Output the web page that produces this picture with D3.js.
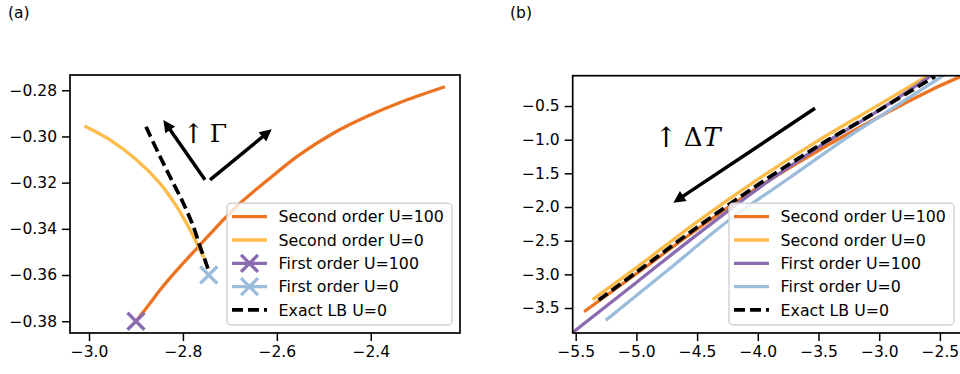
<!DOCTYPE html>
<html>
<head>
<meta charset="utf-8">
<script src="https://cdn.jsdelivr.net/npm/d3@7"></script>
<style>
  body { margin: 0; background: #fff; }
  svg { display: block; font-family: "DejaVu Sans", sans-serif; }
</style>
</head>
<body>
<svg id="fig" width="960" height="374"></svg>
<script>
// ---- legend entries (shared by both panels) ----
const seriesNames = ["Second order U=100", "Second order U=0", "First order U=100", "First order U=0", "Exact LB U=0"];
const seriesColors = ["#ec7321", "#fdbc4a", "#8a6bb0", "#9cbcdc", "#000000"];

// ---- panel (a) ----
const aXTicks = [-3.0, -2.8, -2.6, -2.4];
const aYTicks = [-0.28, -0.30, -0.32, -0.34, -0.36, -0.38];
const aSecondU100X = [-2.900, -2.870, -2.8488, -2.8062, -2.7636, -2.7210, -2.6784, -2.6215, -2.5506, -2.4797, -2.4086, -2.3376, -2.2454];
const aSecondU100Y = [-0.3800, -0.3722, -0.3665, -0.3564, -0.3470, -0.3376, -0.3289, -0.3192, -0.3078, -0.2986, -0.2914, -0.2853, -0.2787];
const aSecondU0X = [-3.0064, -2.9553, -2.8984, -2.8488, -2.8132, -2.7849, -2.7672, -2.7566];
const aSecondU0Y = [-0.2958, -0.3015, -0.3102, -0.3203, -0.3304, -0.3404, -0.3477, -0.3520];
const aFirstU100X = [-2.900];
const aFirstU100Y = [-0.380];
const aFirstU0X = [-2.745];
const aFirstU0Y = [-0.360];
const aExactU0X = [-2.8786, -2.8488, -2.8204, -2.7991, -2.7778, -2.7636, -2.7529, -2.7459];
const aExactU0Y = [-0.2958, -0.3087, -0.3203, -0.3289, -0.3390, -0.3477, -0.3535, -0.3578];

// ---- panel (b) ----
const bXTicks = [-5.5, -5.0, -4.5, -4.0, -3.5, -3.0, -2.5];
const bYTicks = [-0.5, -1.0, -1.5, -2.0, -2.5, -3.0, -3.5];
const bSecondU100X = [-5.42, -5.0, -4.5, -4.0, -3.5, -3.0, -2.8, -2.5, -2.30];
const bSecondU100Y = [-3.54, -2.99, -2.33, -1.71, -1.16, -0.66, -0.47, -0.20, -0.04];
const bSecondU0X = [-5.35, -5.0, -4.5, -4.0, -3.5, -3.0, -2.6];
const bSecondU0Y = [-3.36, -2.90, -2.22, -1.59, -1.01, -0.48, -0.05];
const bFirstU100X = [-5.60, -5.0, -4.5, -4.0, -3.5, -3.0, -2.58];
const bFirstU100Y = [-3.97, -3.12, -2.41, -1.73, -1.11, -0.56, -0.06];
const bFirstU0X = [-5.242, -4.75, -4.24, -3.75, -3.25, -3.0, -2.75, -2.474];
const bFirstU0Y = [-3.668, -2.95, -2.20, -1.58, -0.95, -0.66, -0.37, -0.05];
const bExactU0X = [-5.31, -5.0, -4.5, -4.0, -3.5, -3.0, -2.54];
const bExactU0Y = [-3.38, -2.97, -2.30, -1.67, -1.09, -0.56, -0.06];

// annotation arrows, in data coordinates: [x0, y0, x1, y1]
const aArrowLeft = [-2.753, -0.3188, -2.8417, -0.2929];
const aArrowRight = [-2.7423, -0.3188, -2.6109, -0.2969];
const bArrow = [-3.529, -0.534, -4.696, -1.936];

const svg = d3.select("#fig");
const zip = (xs, ys) => xs.map((x, i) => [x, ys[i]]);
const LW = 3.3;

function drawPanel(cfg) {
  const x = d3.scaleLinear().domain(cfg.xDomain).range([cfg.left, cfg.right]);
  const y = d3.scaleLinear().domain(cfg.yDomain).range([cfg.bottom, cfg.top]);
  const g = svg.append("g");

  const clipId = "clip-" + cfg.id;
  svg.append("clipPath").attr("id", clipId).append("rect")
    .attr("x", cfg.left).attr("y", cfg.top)
    .attr("width", cfg.right - cfg.left).attr("height", cfg.bottom - cfg.top);

  // axes
  const xAxis = d3.axisBottom(x).tickValues(cfg.xTicks).tickFormat(d3.format(cfg.xFmt))
    .tickSizeInner(8).tickSizeOuter(0).tickPadding(5);
  const yAxis = d3.axisLeft(y).tickValues(cfg.yTicks).tickFormat(d3.format(cfg.yFmt))
    .tickSizeInner(8).tickSizeOuter(0).tickPadding(5);
  const gx = g.append("g").attr("transform", `translate(0,${cfg.bottom})`).call(xAxis);
  const gy = g.append("g").attr("transform", `translate(${cfg.left},0)`).call(yAxis);
  [gx, gy].forEach(a => {
    a.attr("font-family", null).attr("font-size", null);
    a.select(".domain").remove();
    a.selectAll(".tick line").attr("stroke", "#000").attr("stroke-width", 1.5);
    a.selectAll(".tick text").style("font-size", "15.5px").style("font-family", "'DejaVu Sans', sans-serif").attr("fill", "#000");
  });

  // curves
  const line = d3.line().x(d => x(d[0])).y(d => y(d[1])).curve(d3.curveCatmullRom.alpha(0.5));
  const plot = g.append("g").attr("clip-path", `url(#${clipId})`);
  cfg.series.forEach(s => {
    const pts = zip(s.x, s.y);
    if (pts.length > 1) {
      plot.append("path").attr("d", line(pts)).attr("fill", "none")
        .attr("stroke", s.color).attr("stroke-width", s.dash ? 3.7 : LW)
        .attr("stroke-dasharray", s.dash ? "11,5" : null)
        .attr("stroke-linecap", s.dash ? "butt" : "square");
    }
    if (s.marker) {
      pts.forEach(p => drawX(g, x(p[0]), y(p[1]), 8.5, s.color));
    }
  });

  // arrows
  cfg.arrows.forEach(a => drawArrow(g, x(a[0]), y(a[1]), x(a[2]), y(a[3])));

  // spines
  g.append("rect").attr("x", cfg.left).attr("y", cfg.top)
    .attr("width", cfg.right - cfg.left).attr("height", cfg.bottom - cfg.top)
    .attr("fill", "none").attr("stroke", "#000").attr("stroke-width", 1.7);

  // legend
  const lw = 225, lh = 121.7;
  const lx = cfg.right - 8 - lw, ly = cfg.bottom - 8 - lh;
  const lg = g.append("g");
  lg.append("rect").attr("x", lx).attr("y", ly).attr("width", lw).attr("height", lh)
    .attr("rx", 4).attr("fill", "#fff").attr("fill-opacity", 0.8)
    .attr("stroke", "#d4d4d4").attr("stroke-width", 1.5);
  cfg.series.forEach((s, i) => {
    const cy = ly + 13.4 + i * 23.3;
    lg.append("line").attr("x1", lx + 5).attr("x2", lx + 40).attr("y1", cy).attr("y2", cy)
      .attr("stroke", s.color).attr("stroke-width", s.dash ? 3.7 : LW)
      .attr("stroke-dasharray", s.dash ? "11,5" : null);
    if (s.marker) drawX(lg, lx + 22.5, cy, 8.5, s.color);
    lg.append("text").attr("x", lx + 51.6).attr("y", cy).attr("dy", "0.36em")
      .style("font-size", "15.8px").text(seriesNames[i]);
  });
  return { x, y, g };
}

function drawX(g, cx, cy, r, color) {
  g.append("path")
    .attr("d", `M${cx - r},${cy - r}L${cx + r},${cy + r}M${cx - r},${cy + r}L${cx + r},${cy - r}`)
    .attr("stroke", color).attr("stroke-width", 3.3).attr("fill", "none");
}

function drawArrow(g, x0, y0, x1, y1) {
  const dx = x1 - x0, dy = y1 - y0, len = Math.hypot(dx, dy);
  const ux = dx / len, uy = dy / len, hl = 12, hw = 6;
  const bx = x1 - ux * hl, by = y1 - uy * hl;
  g.append("line").attr("x1", x0).attr("y1", y0).attr("x2", bx + ux * 2).attr("y2", by + uy * 2)
    .attr("stroke", "#000").attr("stroke-width", 3.5);
  g.append("path")
    .attr("d", `M${x1},${y1}L${bx - uy * hw},${by + ux * hw}L${bx + uy * hw},${by - ux * hw}Z`)
    .attr("fill", "#000");
}

const A = drawPanel({
  id: "a", left: 70, right: 460, top: 75, bottom: 333,
  xDomain: [-3.0405, -2.2099], yDomain: [-0.3851, -0.2734],
  xTicks: aXTicks, yTicks: aYTicks, xFmt: ".1f", yFmt: ".2f",
  series: [
    { x: aSecondU100X, y: aSecondU100Y, color: seriesColors[0] },
    { x: aSecondU0X, y: aSecondU0Y, color: seriesColors[1] },
    { x: aFirstU100X, y: aFirstU100Y, color: seriesColors[2], marker: true },
    { x: aFirstU0X, y: aFirstU0Y, color: seriesColors[3], marker: true },
    { x: aExactU0X, y: aExactU0Y, color: seriesColors[4], dash: true }
  ],
  arrows: [aArrowLeft, aArrowRight]
});

const B = drawPanel({
  id: "b", left: 572.7, right: 962, top: 75.7, bottom: 333,
  xDomain: [-5.5247, -2.318], yDomain: [-3.871, -0.0498],
  xTicks: bXTicks, yTicks: bYTicks, xFmt: ".1f", yFmt: ".1f",
  series: [
    { x: bSecondU100X, y: bSecondU100Y, color: seriesColors[0] },
    { x: bSecondU0X, y: bSecondU0Y, color: seriesColors[1] },
    { x: bFirstU100X, y: bFirstU100Y, color: seriesColors[2] },
    { x: bFirstU0X, y: bFirstU0Y, color: seriesColors[3] },
    { x: bExactU0X, y: bExactU0Y, color: seriesColors[4], dash: true }
  ],
  arrows: [bArrow]
});

// annotation labels (math-style serif)
function mathText(g, px, py, size, str, italic) {
  g.append("text").attr("x", px).attr("y", py).attr("text-anchor", "middle")
    .style("font-family", "'DejaVu Serif', 'Liberation Serif', serif")
    .style("font-size", size + "px")
    .style("font-style", italic ? "italic" : "normal")
    .text(str);
}
mathText(A.g, A.x(-2.7775), 142.5, 27, "↑");
mathText(A.g, A.x(-2.7245), 141.7, 25, "Γ");
mathText(B.g, B.x(-4.757), 146.5, 28, "↑");
mathText(B.g, B.x(-4.533), 145.7, 26, "Δ");
mathText(B.g, B.x(-4.377), 145.7, 26, "T", true);

// panel labels
svg.append("text").attr("x", 8).attr("y", 18).style("font-size", "15.5px").text("(a)");
svg.append("text").attr("x", 510).attr("y", 18).style("font-size", "15.5px").text("(b)");
</script>
</body>
</html>
